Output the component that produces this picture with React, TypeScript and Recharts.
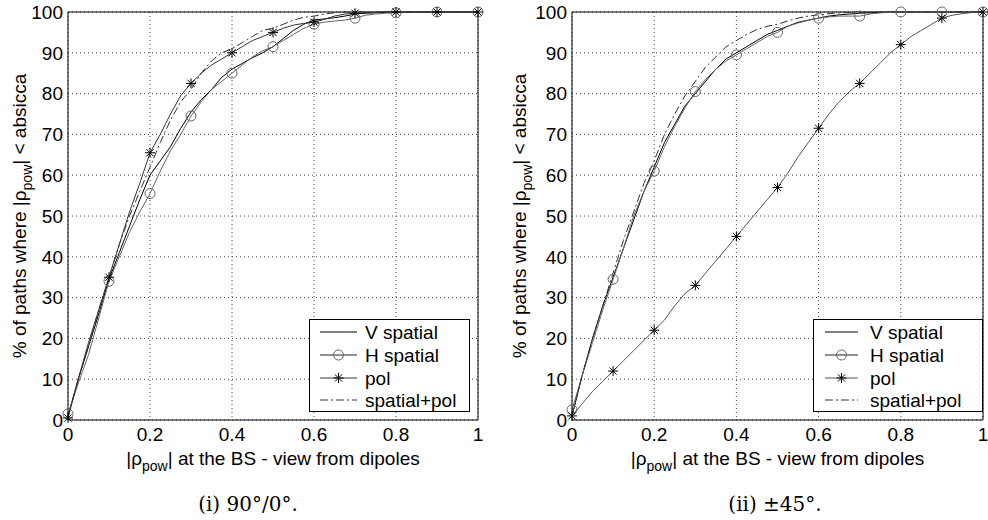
import { LineChart, Line, XAxis, YAxis, CartesianGrid, ReferenceLine, Legend } from 'recharts';

const rho = [
  0, 0.025, 0.05, 0.075, 0.1, 0.125, 0.15, 0.175, 0.2, 0.225, 0.25, 0.275, 0.3, 0.325, 0.35, 0.375, 0.4, 0.425, 0.45,
  0.475, 0.5, 0.525, 0.55, 0.575, 0.6, 0.625, 0.65, 0.675, 0.7, 0.725, 0.75, 0.775, 0.8, 0.825, 0.85, 0.875, 0.9,
  0.925, 0.95, 0.975, 1,
];

// (i) 90°/0°
const vSpatialA = [
  1, 10, 18, 26, 34.5, 41, 47.5, 54, 60, 63.5, 67, 71.5, 75.5, 78.5, 81, 84, 86, 87.4, 88.8, 90, 91.5, 93.5, 95.5, 97,
  98, 98.3, 98.6, 99, 99.5, 99.7, 99.8, 100, 100, 100, 100, 100, 100, 100, 100, 100, 100,
];
const hSpatialA = [
  1.5, 9, 16, 25, 34, 40, 46, 51, 55.5, 61, 66, 70, 74.5, 78, 81, 83, 85, 87, 89, 90.5, 91.5, 93, 94.5, 96, 97, 97.5,
  97.8, 98, 98.5, 99.2, 99.5, 99.7, 99.8, 100, 100, 100, 100, 100, 100, 100, 100,
];
const polA = [
  0.5, 10, 19, 27, 35, 43, 51, 58, 65.5, 70, 75, 79.5, 82.5, 85, 87, 88.5, 90, 91.5, 93, 94, 95, 96, 96.8, 97.2, 97.5,
  98.2, 99, 99.5, 99.7, 99.8, 99.9, 100, 100, 100, 100, 100, 100, 100, 100, 100, 100,
];
const spatialPolA = [
  1, 10, 18, 27, 35, 43, 50, 56, 62, 68, 73.5, 78, 81, 85, 88, 90, 91, 92.5, 94, 95.5, 96, 97, 98, 98.7, 99, 99.5, 99.8,
  100, 100, 100, 100, 100, 100, 100, 100, 100, 100, 100, 100, 100, 100,
];

// (ii) ±45°
const vSpatialB = [
  1, 11, 20, 28, 35, 42, 49, 56, 62, 68, 72.5, 77, 80, 83, 86, 88.5, 90, 91.5, 93, 94.5, 95.5, 96.5, 97.5, 98, 98.5,
  99, 99.3, 99.5, 99.7, 99.8, 99.9, 100, 100, 100, 100, 100, 100, 100, 100, 100, 100,
];
const hSpatialB = [
  2.5, 11, 19, 27, 34.5, 42, 50, 56, 61, 67, 72, 76.5, 80.5, 83.5, 86, 88, 89.5, 91, 92.5, 94, 95, 96.5, 97.3, 98, 98.5,
  98.8, 99, 99, 99, 99.5, 99.8, 99.9, 100, 100, 100, 100, 100, 100, 100, 100, 100,
];
const polB = [
  1, 4, 7, 9.5, 12, 14.5, 17, 19.5, 22, 24.5, 28, 31, 33, 36, 39, 42, 45, 48, 51, 54, 57, 60.5, 64.5, 68, 71.5, 75, 78,
  80.5, 82.5, 85, 87.5, 90, 92, 94, 95.5, 97, 98.5, 99.2, 99.6, 99.9, 100,
];
const spatialPolB = [
  1, 11, 20, 28, 36, 44, 51, 58, 63.5, 70, 75, 79.5, 83, 86.5, 89, 91.5, 93, 94.5, 95.7, 96.5, 97, 97.8, 98.5, 99, 99.3,
  99.6, 99.8, 99.9, 100, 100, 100, 100, 100, 100, 100, 100, 100, 100, 100, 100, 100,
];

const xTicks = [0, 0.2, 0.4, 0.6, 0.8, 1];
const yTicks = [0, 10, 20, 30, 40, 50, 60, 70, 80, 90, 100];
const legendLabels = ['V spatial', 'H spatial', 'pol', 'spatial+pol'];

const SANS = '"Liberation Sans", Arial, Helvetica, sans-serif';
const FS = 19;

const buildRows = (v: number[], h: number[], p: number[], sp: number[]) =>
  rho.map((r, i) => ({ rho: r, v: v[i], h: h[i], pol: p[i], sp: sp[i] }));

function Circle({ cx, cy, color }: { cx: number; cy: number; color: string }) {
  return <circle cx={cx} cy={cy} r={5} fill="none" stroke={color} strokeWidth={1} />;
}

function Star({ cx, cy, color }: { cx: number; cy: number; color: string }) {
  const r = 5;
  const d = 3.6;
  return (
    <g stroke={color} strokeWidth={1}>
      <line x1={cx - r} y1={cy} x2={cx + r} y2={cy} />
      <line x1={cx} y1={cy - r} x2={cx} y2={cy + r} />
      <line x1={cx - d} y1={cy - d} x2={cx + d} y2={cy + d} />
      <line x1={cx - d} y1={cy + d} x2={cx + d} y2={cy - d} />
    </g>
  );
}

// markers only every 0.1 (every 4th sample)
const markerDot = (kind: 'circle' | 'star', color: string) => (props: any) => {
  const { cx, cy, index } = props;
  if (index % 4 !== 0) return <g key={`n-${index}`} />;
  return (
    <g key={`m-${index}`}>
      {kind === 'circle' ? <Circle cx={cx} cy={cy} color={color} /> : <Star cx={cx} cy={cy} color={color} />}
    </g>
  );
};

function YLabel(props: any) {
  const { viewBox } = props;
  const cx = viewBox.x + 26;
  const cy = viewBox.y + viewBox.height / 2;
  return (
    <text
      x={cx}
      y={cy}
      transform={`rotate(-90, ${cx}, ${cy})`}
      textAnchor="middle"
      fontFamily={SANS}
      fontSize={FS}
      fill="#000"
    >
      <tspan>% of paths where |ρ</tspan>
      <tspan dy={6} fontSize={14}>pow</tspan>
      <tspan dy={-6}>| &lt; absicca</tspan>
    </text>
  );
}

function XLabel(props: any) {
  const { viewBox } = props;
  const cx = viewBox.x + viewBox.width / 2;
  return (
    <text x={cx} y={465} textAnchor="middle" fontFamily={SANS} fontSize={FS} fill="#000">
      <tspan>|ρ</tspan>
      <tspan dy={6} fontSize={14}>pow</tspan>
      <tspan dy={-6}>| at the BS - view from dipoles</tspan>
    </text>
  );
}

function LegendBox({ width, lineX, textX, colors }: { width: number; lineX: [number, number]; textX: number; colors: string[] }) {
  const rows = [13, 36, 59, 81];
  const mid = (lineX[0] + lineX[1]) / 2;
  return (
    <svg width={width} height={93} style={{ display: 'block' }}>
      <rect x={0.5} y={0.5} width={width - 1} height={92} fill="#fff" stroke="#000" />
      {legendLabels.map((label, i) => (
        <g key={label}>
          <line
            x1={lineX[0]}
            x2={lineX[1]}
            y1={rows[i]}
            y2={rows[i]}
            stroke={i === 1 ? '#222' : colors[i]}
            strokeDasharray={i === 3 ? '8 3 2 3' : undefined}
          />
          {i === 1 && <Circle cx={mid} cy={rows[i]} color={colors[i]} />}
          {i === 2 && <Star cx={mid} cy={rows[i]} color="#000" />}
          <text x={textX} y={rows[i] + 7} fontFamily={SANS} fontSize={FS} fill="#000">
            {label}
          </text>
        </g>
      ))}
    </svg>
  );
}

interface PanelProps {
  rows: ReturnType<typeof buildRows>;
  left: number;
  width: number;
  yAxisWidth: number;
  marginRight: number;
  legendLeft: number;
  legendWidth: number;
  legendLineX: [number, number];
  legendTextX: number;
  polColor: string;
}

function Panel(p: PanelProps) {
  const colors = ['#000', '#666', p.polColor, '#333'];
  return (
    <div style={{ position: 'absolute', left: p.left, top: 0 }}>
      <LineChart width={p.width} height={520} data={p.rows} margin={{ top: 12, right: p.marginRight, bottom: 70, left: 0 }}>
        <CartesianGrid stroke="#444" strokeDasharray="1 3" />
        <XAxis
          dataKey="rho"
          type="number"
          domain={[0, 1]}
          ticks={xTicks}
          tickFormatter={(v: number) => String(v)}
          height={30}
          tickLine={false}
          tickSize={6}
          tickMargin={2}
          axisLine={{ stroke: '#000' }}
          tick={{ fill: '#000', fontSize: FS, fontFamily: SANS }}
          label={<XLabel />}
        />
        <YAxis
          type="number"
          domain={[0, 100]}
          ticks={yTicks}
          width={p.yAxisWidth}
          tickLine={false}
          tickSize={4}
          tickMargin={1}
          axisLine={{ stroke: '#000' }}
          tick={{ fill: '#000', fontSize: FS, fontFamily: SANS }}
          label={<YLabel />}
        />
        <ReferenceLine y={100} stroke="#000" />
        <ReferenceLine x={1} stroke="#000" />
        <Line dataKey="v" type="linear" stroke={colors[0]} strokeWidth={1} dot={false} isAnimationActive={false} />
        <Line
          dataKey="h"
          type="linear"
          stroke={colors[1]}
          strokeWidth={1}
          dot={markerDot('circle', colors[1])}
          isAnimationActive={false}
        />
        <Line
          dataKey="pol"
          type="linear"
          stroke={colors[2]}
          strokeWidth={1}
          dot={markerDot('star', '#000')}
          isAnimationActive={false}
        />
        <Line
          dataKey="sp"
          type="linear"
          stroke={colors[3]}
          strokeWidth={1}
          strokeDasharray="8 3 2 3"
          dot={false}
          isAnimationActive={false}
        />
        <Legend
          layout="vertical"
          align="center"
          verticalAlign="middle"
          wrapperStyle={{ left: p.legendLeft, top: 319, width: p.legendWidth, height: 93 }}
          content={() => (
            <LegendBox width={p.legendWidth} lineX={p.legendLineX} textX={p.legendTextX} colors={colors} />
          )}
        />
      </LineChart>
    </div>
  );
}

const captionStyle: React.CSSProperties = {
  position: 'absolute',
  top: 492,
  width: 200,
  textAlign: 'center',
  fontFamily: '"DejaVu Serif", "Liberation Serif", serif',
  fontSize: 20,
  color: '#000',
};

export default function App() {
  const rowsA = buildRows(vSpatialA, hSpatialA, polA, spatialPolA);
  const rowsB = buildRows(vSpatialB, hSpatialB, polB, spatialPolB);
  return (
    <div style={{ position: 'absolute', left: 0, top: 0, width: 988, height: 520, background: '#fff', overflow: 'hidden' }}>
      <Panel
        rows={rowsA}
        left={0}
        width={500}
        yAxisWidth={68}
        marginRight={22}
        legendLeft={309}
        legendWidth={161}
        legendLineX={[11, 48]}
        legendTextX={56}
        polColor="#333"
      />
      <Panel
        rows={rowsB}
        left={500}
        width={488}
        yAxisWidth={72}
        marginRight={5}
        legendLeft={313}
        legendWidth={170}
        legendLineX={[12, 45]}
        legendTextX={57}
        polColor="#555"
      />
      <div style={{ ...captionStyle, left: 148 }}>(i) 90°/0°.</div>
      <div style={{ ...captionStyle, left: 675 }}>(ii) ±45°.</div>
    </div>
  );
}
